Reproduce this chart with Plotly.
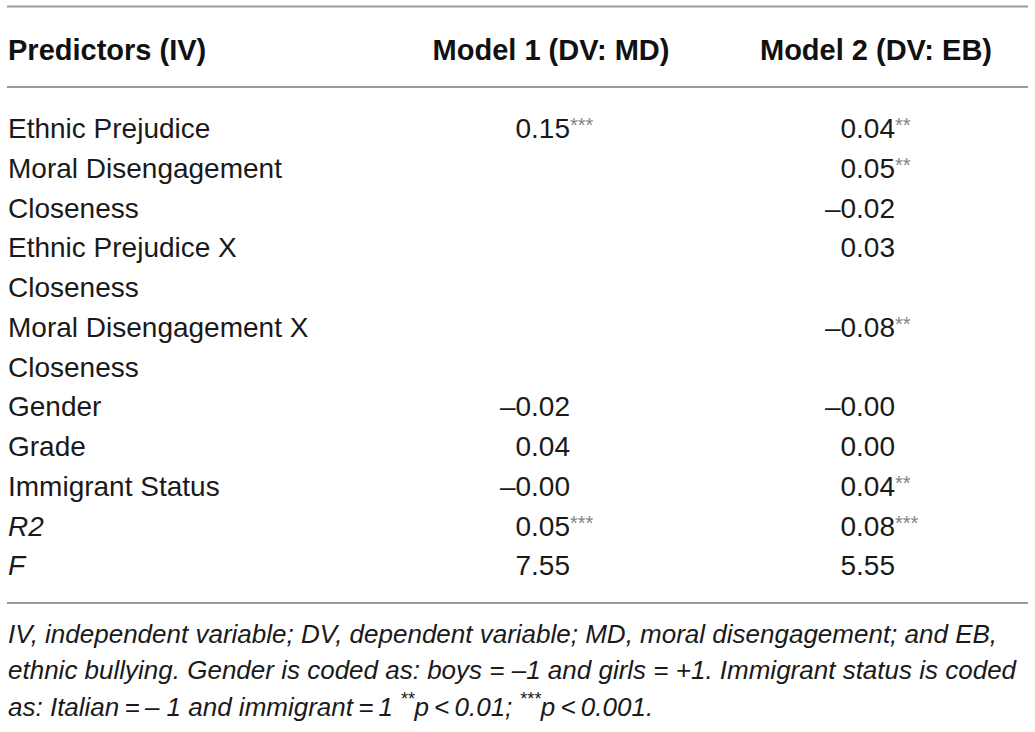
"""Regression table: ethnic prejudice, moral disengagement and ethnic bullying."""

import plotly.graph_objects as go

# table content
headers = ["Predictors (IV)", "Model 1 (DV: MD)", "Model 2 (DV: EB)"]
predictors = [
    "Ethnic Prejudice", "Moral Disengagement", "Closeness",
    "Ethnic Prejudice X", "Closeness", "Moral Disengagement X", "Closeness",
    "Gender", "Grade", "Immigrant Status", "<i>R2</i>", "<i>F</i>",
]
model1 = ["0.15", "", "", "", "", "", "", "–0.02", "0.04", "–0.00", "0.05", "7.55"]
model1_sig = ["***", "", "", "", "", "", "", "", "", "", "***", ""]
model2 = ["0.04", "0.05", "–0.02", "0.03", "", "–0.08", "", "–0.00", "0.00", "0.04", "0.08", "5.55"]
model2_sig = ["**", "**", "", "", "", "**", "", "", "", "**", "***", ""]
footnote = [
    "IV, independent variable; DV, dependent variable; MD, moral disengagement; and EB,",
    "ethnic bullying. Gender is coded as: boys = \u20131 and girls = +1. Immigrant status is coded",
    "as: Italian\u2009=\u2009\u2013 1 and immigrant\u2009=\u20091 <sup>**</sup><i>p</i>\u2009<\u20090.01; <sup>***</sup><i>p</i>\u2009<\u20090.001.",
]

W, H = 1035, 732
FONT = "Liberation Sans, Arial, sans-serif"

# layout positions (pixels on a 1035x732 canvas)
left_x = 8
col1_x, col2_x = 570, 895
head_x = [left_x, 551, 876]
head_y = 53
row_y0, row_step = 131, 39.75
rows_y = [row_y0 + i * row_step for i in range(len(predictors))]
star_lift = 4
foot_y = [636, 672.5, 709.5]


def non_empty(xs, ys, texts):
    """Drop cells that have no text."""
    keep = [i for i, t in enumerate(texts) if t]
    return [xs[i] for i in keep], [ys[i] for i in keep], [texts[i] for i in keep]


fig = go.Figure()

# header
fig.add_trace(go.Scatter(
    x=head_x, y=[head_y] * 3, text=[f"<b>{h}</b>" for h in headers],
    mode="text", textposition=["middle right", "middle center", "middle center"],
    textfont=dict(family=FONT, size=29, color="#111111"),
    hoverinfo="skip",
))

# predictor labels
fig.add_trace(go.Scatter(
    x=[left_x] * len(predictors), y=rows_y, text=predictors,
    mode="text", textposition="middle right",
    textfont=dict(family=FONT, size=28, color="#1a1a1a"),
    hoverinfo="skip",
))

# coefficients, right aligned so decimals line up, stars after
for col_x, vals, sig in [(col1_x, model1, model1_sig), (col2_x, model2, model2_sig)]:
    xs, ys, ts = non_empty([col_x] * len(vals), rows_y, vals)
    fig.add_trace(go.Scatter(
        x=xs, y=ys, text=ts,
        mode="text", textposition="middle left",
        textfont=dict(family=FONT, size=28, color="#1a1a1a"),
        hoverinfo="skip",
    ))
    xs, ys, ts = non_empty([col_x] * len(sig), [y - star_lift for y in rows_y], sig)
    fig.add_trace(go.Scatter(
        x=xs, y=ys, text=ts,
        mode="text", textposition="middle right",
        textfont=dict(family=FONT, size=20, color="#858585"),
        hoverinfo="skip",
    ))

# footnote
fig.add_trace(go.Scatter(
    x=[left_x] * len(footnote), y=foot_y, text=footnote,
    mode="text", textposition="middle right",
    textfont=dict(family=FONT, size=26, color="#1a1a1a", style="italic"),
    hoverinfo="skip",
))

# horizontal rules
for y in [6.5, 87, 603]:
    fig.add_shape(type="line", xref="x", yref="y", x0=7, x1=1028, y0=y, y1=y,
                  line=dict(color="#9a9a9a", width=2))

fig.update_layout(
    width=W, height=H,
    margin=dict(l=0, r=0, t=0, b=0),
    paper_bgcolor="white", plot_bgcolor="white",
    showlegend=False,
    xaxis=dict(range=[0, W], visible=False, fixedrange=True),
    yaxis=dict(range=[H, 0], visible=False, fixedrange=True),
)

fig.write_html(
    "out.html",
    config={"displayModeBar": False},
    post_script="document.body.style.margin='0'; document.body.style.overflow='hidden';",
)
